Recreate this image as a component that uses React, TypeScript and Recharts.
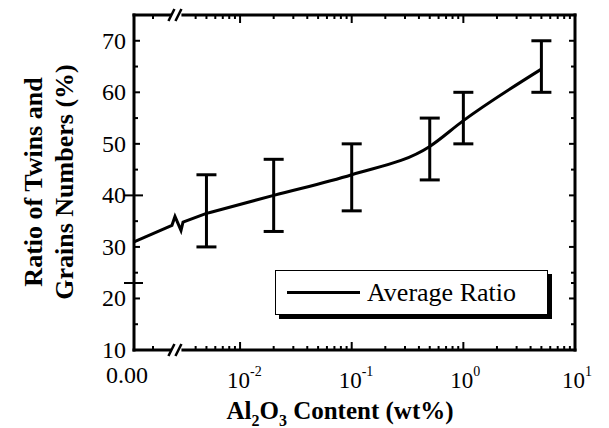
import { ComposedChart, Line, XAxis, YAxis, ErrorBar, Legend } from "recharts"

const FONT = "'Liberation Serif', 'DejaVu Serif', 'Noto Serif', Times, serif"

// Al2O3 content (wt%) of the doped samples and the measured twin/grain ratio
const contents = [0.005, 0.02, 0.1, 0.5, 1, 5]
const avgRatio = [36.5, 40, 44, 49.5, 54.5, 64.5]
const lowRatio = [30, 33, 37, 43, 50, 60]
const highRatio = [44, 47, 50, 55, 60, 70]

// undoped sample, plotted at "0.00" left of the axis break
const zeroRatio = 31
// small zig-zag where the curve crosses the break (axis units = log10 wt%)
const kinkPos = [-2.61, -2.583, -2.529, -2.511]
const kinkRatio = [34.2, 35.9, 33.2, 34.8]

const ZERO_POS = -2.95
const BREAK_POS = -2.57
const decades = [-2, -1, 0, 1]
const minorSteps = [2, 3, 4, 5, 6, 7, 8, 9]
const gapTicks = [-2.78]

const yMajor = [10, 20, 30, 40, 50, 60, 70]
const yMinor = [15, 25, 35, 45, 55, 65]
const yCross = [23]

const measured = contents.map((c, i) => ({
  pos: Math.log10(c),
  ratio: avgRatio[i],
  err: [avgRatio[i] - lowRatio[i], highRatio[i] - avgRatio[i]],
}))

const lead = [
  { pos: ZERO_POS, ratio: zeroRatio },
  ...kinkPos.map((p, i) => ({ pos: p, ratio: kinkRatio[i] })),
  { pos: measured[0].pos, ratio: measured[0].ratio },
]

const minorTicks = [-3, -2, -1, 0]
  .flatMap((d) => minorSteps.map((k) => d + Math.log10(k)))
  .filter((p) => p > -2.5 && p < 1)

const xTicks = [ZERO_POS, ...gapTicks, BREAK_POS, ...minorTicks, ...decades]
const yTicks = [...yMajor, ...yMinor, ...yCross]

function BreakMark({ x, y }: { x: number; y: number }) {
  return (
    <g>
      <line x1={x - 5} y1={y} x2={x + 5} y2={y} stroke="#fff" strokeWidth={6} />
      <line x1={x - 8} y1={y + 6} x2={x - 2} y2={y - 6} stroke="#000" strokeWidth={2.5} />
      <line x1={x - 1} y1={y + 6} x2={x + 5} y2={y - 6} stroke="#000" strokeWidth={2.5} />
    </g>
  )
}

function XTick(props: any) {
  const { x, y, payload, side } = props
  const v = payload.value
  if (v === BREAK_POS) return <BreakMark x={x} y={y} />
  const dir = side === "top" ? 1 : -1
  const major = v === ZERO_POS || decades.includes(v)
  const len = major ? 8 : 4
  let label = null
  if (side === "bottom" && v === ZERO_POS) {
    label = (
      <text x={x - 7} y={y + 33} textAnchor="middle" fontSize={24} fontFamily={FONT} fill="#000">
        0.00
      </text>
    )
  } else if (side === "bottom" && major) {
    label = (
      <text x={x - 13} y={y + 38} fontSize={23} fontFamily={FONT} fill="#000">
        10
        <tspan dy={-12} fontSize={14}>
          {v}
        </tspan>
      </text>
    )
  }
  return (
    <g>
      {v !== ZERO_POS && (
        <line x1={x} y1={y} x2={x} y2={y + dir * len} stroke="#000" strokeWidth={2} />
      )}
      {label}
    </g>
  )
}

function YTick(props: any) {
  const { x, y, payload, side } = props
  const v = payload.value
  const dir = side === "left" ? 1 : -1
  const major = yMajor.includes(v)
  const cross = side === "left" && (yCross.includes(v) || v === 40)
  const len = major ? 6 : 4
  return (
    <g>
      {v !== 10 && (
        <line
          x1={cross ? x - 10 : x}
          y1={y}
          x2={x + dir * (cross ? 9 : len)}
          y2={y}
          stroke="#000"
          strokeWidth={2}
        />
      )}
      {side === "left" && major && (
        <text x={x - 8} y={y} dy={8} textAnchor="end" fontSize={24} fontFamily={FONT} fill="#000">
          {v}
        </text>
      )}
    </g>
  )
}

function XTitle() {
  return (
    <text x={340} y={419} textAnchor="middle" fontSize={25} fontWeight="bold" fontFamily={FONT} fill="#000">
      Al
      <tspan dy={7} fontSize={16}>2</tspan>
      <tspan dy={-7}>O</tspan>
      <tspan dy={7} fontSize={16}>3</tspan>
      <tspan dy={-7}> Content (wt%)</tspan>
    </text>
  )
}

function YTitle() {
  return (
    <g fontSize={26} fontWeight="bold" fontFamily={FONT} fill="#000" textAnchor="middle">
      <text x={42} y={182} transform="rotate(-90 42 182)">
        Ratio of Twins and
      </text>
      <text x={73} y={182} transform="rotate(-90 73 182)">
        Grains Numbers (%)
      </text>
    </g>
  )
}

function LegendBox() {
  return (
    <div
      style={{
        width: 271,
        height: 43,
        border: "1.5px solid #000",
        boxShadow: "4px 4px 0 #000",
        background: "#fff",
        display: "flex",
        alignItems: "center",
        fontFamily: FONT,
        fontSize: 26,
        color: "#000",
      }}
    >
      <div style={{ width: 73, height: 3, background: "#000", marginLeft: 11, marginRight: 7 }} />
      <span>Average Ratio</span>
    </div>
  )
}

const axisLine = { stroke: "#000", strokeWidth: 3, strokeLinecap: "square" as const }

export default function App() {
  return (
    <div style={{ position: "absolute", left: 0, top: 0, width: 609, height: 428, background: "#fff", fontFamily: FONT }}>
      <ComposedChart width={609} height={428} margin={{ top: 5, right: 24, bottom: 38, left: 74 }}>
        <XAxis
          xAxisId="bottom"
          type="number"
          dataKey="pos"
          domain={[ZERO_POS, 1]}
          allowDataOverflow
          ticks={xTicks}
          interval={0}
          tickSize={0}
          tickMargin={0}
          tickLine={false}
          height={40}
          axisLine={axisLine}
          tick={(p: any) => <XTick {...p} side="bottom" />}
          label={<XTitle />}
        />
        <XAxis
          xAxisId="top"
          orientation="top"
          type="number"
          dataKey="pos"
          domain={[ZERO_POS, 1]}
          allowDataOverflow
          ticks={xTicks}
          interval={0}
          tickSize={0}
          tickMargin={0}
          tickLine={false}
          height={10}
          axisLine={axisLine}
          tick={(p: any) => <XTick {...p} side="top" />}
        />
        <YAxis
          yAxisId="left"
          type="number"
          domain={[10, 75]}
          allowDataOverflow
          ticks={yTicks}
          interval={0}
          tickSize={0}
          tickMargin={0}
          tickLine={false}
          width={60}
          axisLine={axisLine}
          tick={(p: any) => <YTick {...p} side="left" />}
          label={<YTitle />}
        />
        <YAxis
          yAxisId="right"
          orientation="right"
          type="number"
          domain={[10, 75]}
          allowDataOverflow
          ticks={yTicks}
          interval={0}
          tickSize={0}
          tickMargin={0}
          tickLine={false}
          width={10}
          axisLine={axisLine}
          tick={(p: any) => <YTick {...p} side="right" />}
        />
        <Legend
          layout="vertical"
          verticalAlign="middle"
          align="center"
          content={() => <LegendBox />}
          wrapperStyle={{ left: 275, top: 270, width: 280, height: 50 }}
        />
        <Line
          xAxisId="bottom"
          yAxisId="left"
          data={lead}
          dataKey="ratio"
          type="linear"
          stroke="#000"
          strokeWidth={3}
          dot={false}
          legendType="none"
          isAnimationActive={false}
        />
        <Line
          xAxisId="bottom"
          yAxisId="left"
          data={measured}
          dataKey="ratio"
          name="Average Ratio"
          type="monotone"
          stroke="#000"
          strokeWidth={3}
          dot={false}
          isAnimationActive={false}
        >
          <ErrorBar dataKey="err" width={10} stroke="#000" strokeWidth={3} direction="y" isAnimationActive={false} />
        </Line>
      </ComposedChart>
    </div>
  )
}
